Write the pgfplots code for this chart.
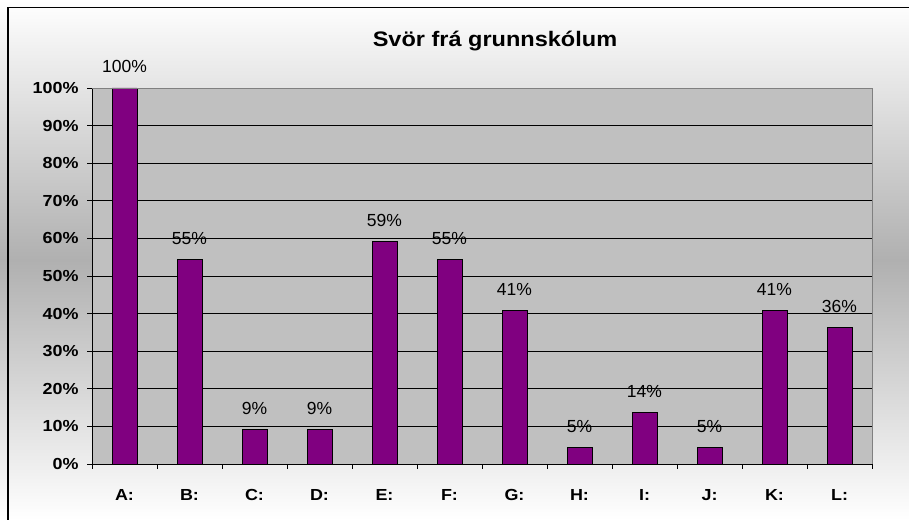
\documentclass[border=0pt]{standalone}
\usepackage{pgfplots}
\pgfplotsset{compat=1.18}
\usepackage{pgfplotstable}
\usepackage{fontspec}
\setmainfont{Liberation Sans}
\newfontfamily\bfs[FakeStretch=1.12]{Liberation Sans}
\definecolor{bargc}{RGB}{128,0,128}
\definecolor{plotgray}{RGB}{192,192,192}
\definecolor{bggray}{RGB}{176,176,176}
\definecolor{edgegray}{RGB}{128,128,128}
\pgfplotstableread{
x y lab
0 100 100\%
1 54.5 55\%
2 9.1 9\%
3 9.1 9\%
4 59.1 59\%
5 54.5 55\%
6 40.9 41\%
7 4.5 5\%
8 13.6 14\%
9 4.5 5\%
10 40.9 41\%
11 36.4 36\%
}\datatable
\begin{document}
\begin{tikzpicture}
\useasboundingbox (0,0) rectangle (909bp,520bp);
\shade[top color=white, bottom color=white, middle color=bggray] (0,0) rectangle (909bp,520bp);
\draw[line width=1.5bp] (8bp,0) -- (8bp,512.5bp) -- (909bp,512.5bp);
\node[anchor=base] at (495bp,473.3bp) {\bfs\bfseries\fontsize{21bp}{25bp}\selectfont Svör frá grunnskólum};
\begin{axis}[
  at={(92bp,56bp)}, anchor=south west,
  width=780bp, height=376bp, scale only axis,
  xmin=-0.5, xmax=11.5, ymin=0, ymax=100,
  axis x line*=bottom, axis y line*=left,
  axis line style={black, line width=0.8bp},
  axis background/.style={fill=plotgray},
  ymajorgrids, grid style={black, line width=0.7bp},
  ytick={0,10,...,100},
  yticklabels={0\%,10\%,20\%,30\%,40\%,50\%,60\%,70\%,80\%,90\%,100\%},
  xtick={-0.5,0.5,...,11.5},
  x tick label as interval,
  xticklabels={A:,B:,C:,D:,E:,F:,G:,H:,I:,J:,K:,L:},
  tick align=outside, major tick length=5bp,
  tick style={black, line width=0.8bp},
  yticklabel style={font=\bfs\bfseries\fontsize{16bp}{19bp}\selectfont, xshift=-5bp},
  xticklabel style={font=\bfs\bfseries\fontsize{16bp}{19bp}\selectfont, anchor=base, yshift=-32bp},
  after end axis/.code={\draw[edgegray, line width=0.8bp] (rel axis cs:0,1) -- (rel axis cs:1,1) -- (rel axis cs:1,0);},
  clip=false,
]
\addplot[ybar, bar width=25bp, fill=bargc, draw=black, line width=0.8bp,
  nodes near coords, point meta=explicit symbolic,
  every node near coord/.append style={font=\fontsize{17.5bp}{21bp}\selectfont, anchor=base, yshift=15bp, text=black}]
  table[x=x, y=y, meta=lab] {\datatable};
\end{axis}
\end{tikzpicture}
\end{document}
